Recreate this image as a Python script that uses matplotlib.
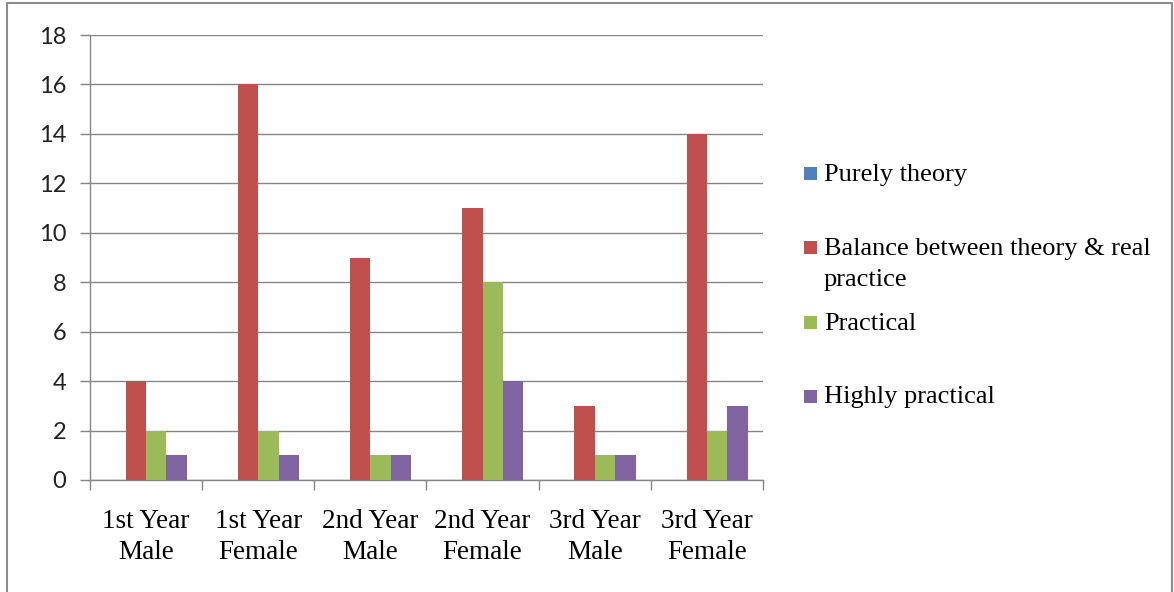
import matplotlib
matplotlib.use("Agg")
import matplotlib.pyplot as plt
import numpy as np
from matplotlib.patches import Rectangle

categories = ["1st Year\nMale", "1st Year\nFemale", "2nd Year\nMale",
              "2nd Year\nFemale", "3rd Year\nMale", "3rd Year\nFemale"]
series_names = ["Purely theory", "Balance between theory & real\npractice",
                "Practical", "Highly practical"]
purely_theory = [0, 0, 0, 0, 0, 0]
balance = [4, 16, 9, 11, 3, 14]
practical = [2, 2, 1, 8, 1, 2]
highly_practical = [1, 1, 1, 4, 1, 3]
y_ticks = [0, 2, 4, 6, 8, 10, 12, 14, 16, 18]

colors = ["#4F81BD", "#C0504D", "#9BBB59", "#8064A2"]
series = [purely_theory, balance, practical, highly_practical]

W, H = 1174, 592
fig = plt.figure(figsize=(W / 100, H / 100), dpi=100)
ax = fig.add_axes([90 / W, 1 - 480 / H, (763 - 90) / W, (480 - 35) / H])

n = len(categories)
x = np.arange(n)
bw = 1 / 5.5
for i, (vals, c) in enumerate(zip(series, colors)):
    ax.bar(x + (i - 1.5) * bw, vals, width=bw, color=c, zorder=3)

ax.set_xlim(-0.5, n - 0.5)
ax.set_ylim(0, 18)
ax.set_yticks(y_ticks)
ax.yaxis.grid(True, color="#868686", linewidth=1, zorder=0)
ax.set_axisbelow(True)
for s in ["top", "right"]:
    ax.spines[s].set_visible(False)
for s in ["left", "bottom"]:
    ax.spines[s].set_color("#868686")
    ax.spines[s].set_linewidth(1)

ax.tick_params(axis="y", length=7, width=1, color="#868686", pad=10,
               labelsize=17, labelcolor="#222222")
for lab in ax.get_yticklabels():
    lab.set_fontfamily("Lato")

ax.set_xticks(x)
ax.set_xticklabels(categories, fontfamily="Liberation Serif", fontsize=19.5,
                   linespacing=1.3)
ax.tick_params(axis="x", length=0, pad=21)
ax.set_xticks(np.arange(n + 1) - 0.5, minor=True)
ax.tick_params(axis="x", which="minor", length=7, width=1, color="#868686")

# legend
leg_y = [173, 247, 322, 396]
for name, c, yy in zip(series_names, colors, leg_y):
    fig.patches.append(Rectangle((804 / W, 1 - (yy + 6.5) / H), 13 / W, 13 / H,
                                 transform=fig.transFigure, facecolor=c,
                                 edgecolor="none"))
    fig.text(824 / W, 1 - (yy - 9.5) / H, name, fontfamily="Liberation Serif",
             fontsize=19, va="top", ha="left", linespacing=1.55)

# outer frame
fig.patches.append(Rectangle((7 / W, -0.05), (1172 - 7) / W, 1 - 3 / H + 0.05,
                             transform=fig.transFigure, facecolor="none",
                             edgecolor="#8c8c8c", linewidth=1.5))

fig.savefig("out.png", dpi=100)
